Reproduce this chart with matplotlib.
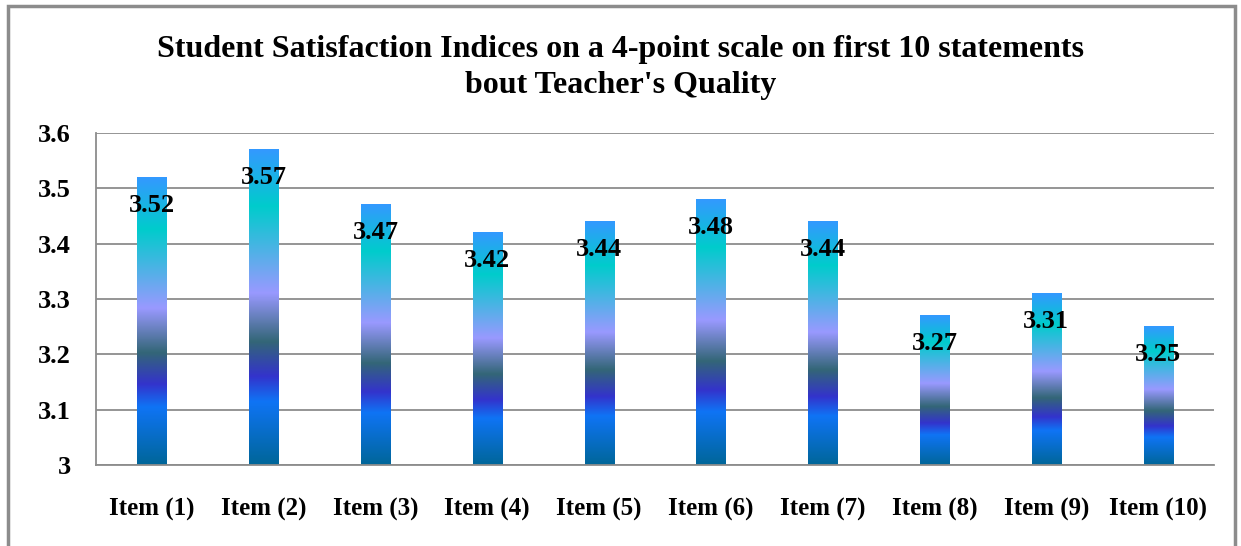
import matplotlib
matplotlib.use("Agg")
import matplotlib.pyplot as plt
import numpy as np
from matplotlib.colors import LinearSegmentedColormap
from matplotlib.patches import Rectangle

items = ["Item (1)", "Item (2)", "Item (3)", "Item (4)", "Item (5)",
         "Item (6)", "Item (7)", "Item (8)", "Item (9)", "Item (10)"]
scores = [3.52, 3.57, 3.47, 3.42, 3.44, 3.48, 3.44, 3.27, 3.31, 3.25]
yticks = [3.0, 3.1, 3.2, 3.3, 3.4, 3.5, 3.6]
ytick_labels = ["3", "3.1", "3.2", "3.3", "3.4", "3.5", "3.6"]

plt.rcParams["font.family"] = ["Liberation Serif", "DejaVu Serif"]
plt.rcParams["font.weight"] = "bold"

# bottom -> top gradient used to fill each bar
grad = LinearSegmentedColormap.from_list("bar", [
    (0.00, "#006699"), (0.20, "#0f74f5"), (0.28, "#3333cc"),
    (0.39, "#336677"), (0.545, "#9999ff"), (0.82, "#00cccc"),
    (1.00, "#3399ff")])

fig = plt.figure(figsize=(12.41, 5.46), dpi=100)
ax = fig.add_axes([96 / 1241, 1 - 465 / 546, 1118 / 1241, 332 / 546])

# outer chart frame
fig.patches.append(Rectangle((8 / 1241, -0.05), 1227 / 1241, 1.05 - 6 / 546,
                             transform=fig.transFigure, fill=False,
                             edgecolor="#8c8c8c", linewidth=2.5))

x = np.arange(len(items))
bars = ax.bar(x, [s - 3 for s in scores], bottom=3, width=0.26, color="none")
img = np.linspace(0, 1, 256).reshape(-1, 1)
for b in bars:
    x0, y0 = b.get_x(), b.get_y()
    w, h = b.get_width(), b.get_height()
    ax.imshow(img, cmap=grad, origin="lower", aspect="auto",
              extent=[x0, x0 + w, y0, y0 + h], zorder=2)

for xi, s in zip(x, scores):
    ax.annotate(f"{s:.2f}", (xi, s), xytext=(0, -20), textcoords="offset points",
                ha="center", va="center", fontsize=19, fontweight="bold", zorder=3)

ax.set_xlim(-0.5, len(items) - 0.5)
ax.set_ylim(3.0, 3.6)
ax.set_yticks(yticks)
ax.set_yticklabels(ytick_labels, fontsize=19, fontweight="bold")
ax.set_xticks(x)
ax.set_xticklabels(items, fontsize=18, fontweight="bold")
ax.tick_params(axis="both", length=0)
ax.tick_params(axis="y", pad=18)
ax.tick_params(axis="x", pad=24)
ax.grid(axis="y", color="#8c8c8c", linewidth=1.3, zorder=0)
ax.set_axisbelow(True)
for side in ["top", "right"]:
    ax.spines[side].set_visible(False)
ax.spines["left"].set_color("#8c8c8c")
ax.spines["bottom"].set_color("#8c8c8c")
ax.spines["left"].set_linewidth(1.3)
ax.spines["bottom"].set_linewidth(1.3)

fig.text(0.5, 1 - 49 / 546, "Student Satisfaction Indices on a 4-point scale on first 10 statements",
         ha="center", va="center", fontsize=23, fontweight="bold")
fig.text(0.5, 1 - 86 / 546, "bout Teacher's Quality",
         ha="center", va="center", fontsize=23, fontweight="bold")

fig.savefig("out.png", dpi=100)
